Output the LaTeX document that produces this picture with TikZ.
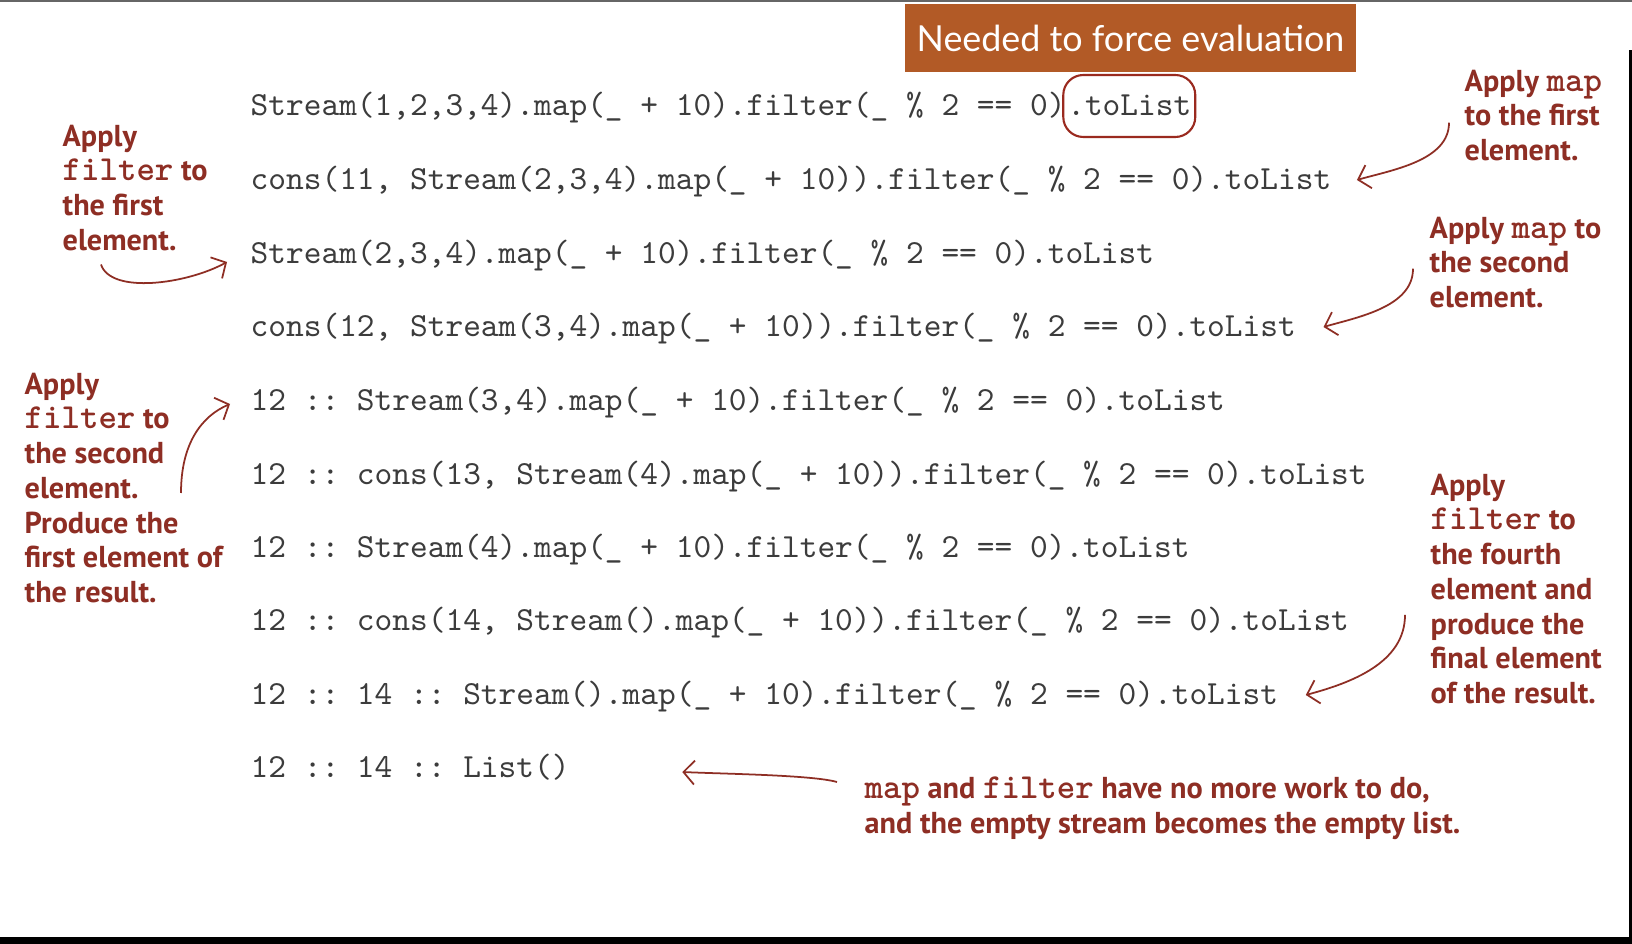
\documentclass[tikz,border=0pt]{standalone}
\usepackage{fontspec}
\usepackage{xcolor}
\usepackage{tikz}
\usetikzlibrary{calc,positioning,arrows.meta}
\newfontfamily\notefont{PT Sans}
\newfontfamily\bannerfont{Lato}
\definecolor{notered}{HTML}{8E2E24}
\definecolor{boxred}{HTML}{9A2A1F}
\definecolor{banbrown}{HTML}{B25A26}
\definecolor{codegray}{HTML}{3C3C3C}
\newcommand{\cw}[1]{{\ttfamily\bfseries\fontsize{10}{9.9}\selectfont\addfontfeature{FakeBold=1}#1}}

\begin{document}
\begin{tikzpicture}[x=0.1mm,y=-0.1mm,
   code/.style={text=codegray,font=\ttfamily\fontsize{9.6}{11}\selectfont\frenchspacing,inner sep=0pt,anchor=west,text height=7pt,text depth=1.4pt},
   tobox/.style={draw=boxred,rounded corners=2mm,line width=0.6pt,inner xsep=0.4mm,minimum height=6.2mm},
   note/.style={text=notered,font=\notefont\bfseries\fontsize{8.6}{9.9}\selectfont,align=left,inner sep=0pt,anchor=north west},
   banner/.style={fill=banbrown,text=white,minimum width=45.1mm,minimum height=6.8mm,inner sep=0pt,font=\bannerfont\fontsize{10.2}{12}\selectfont},
   notearrow/.style={draw=notered,line width=0.5pt,-{Straight Barb[length=1.1mm,width=2.4mm]}}]
\useasboundingbox (0,0) rectangle (1632,944);
% frame
\fill[white] (0,0) rectangle (1632,944);
\fill[black!60] (0,0) rectangle (1632,2);
\fill[black] (0,937) rectangle (1632,944);
\fill[black] (1629,50) rectangle (1632,944);
% banner
\node[banner] (need) at (1130.5,38) {Needed to force evaluation};
% evaluation steps
\node[code] (r1)  at (250,106) {Stream(1,2,3,4).map(\_ + 10).filter(\_ \% 2 == 0)};
\node[code,tobox,right=-0.4mm of r1] (tl) {.toList};
\node[code] (r2)  at (250,180) {cons(11, Stream(2,3,4).map(\_ + 10)).filter(\_ \% 2 == 0).toList};
\node[code] (r3)  at (250,254) {Stream(2,3,4).map(\_ + 10).filter(\_ \% 2 == 0).toList};
\node[code] (r4)  at (250,327) {cons(12, Stream(3,4).map(\_ + 10)).filter(\_ \% 2 == 0).toList};
\node[code] (r5)  at (250,401) {12 :: Stream(3,4).map(\_ + 10).filter(\_ \% 2 == 0).toList};
\node[code] (r6)  at (250,475) {12 :: cons(13, Stream(4).map(\_ + 10)).filter(\_ \% 2 == 0).toList};
\node[code] (r7)  at (250,548) {12 :: Stream(4).map(\_ + 10).filter(\_ \% 2 == 0).toList};
\node[code] (r8)  at (250,621) {12 :: cons(14, Stream().map(\_ + 10)).filter(\_ \% 2 == 0).toList};
\node[code] (r9)  at (250,695) {12 :: 14 :: Stream().map(\_ + 10).filter(\_ \% 2 == 0).toList};
\node[code] (r10) at (250,768) {12 :: 14 :: List()};
% annotations
\node[note] (a1) at (62,124)   {Apply\\\cw{filter} to\\the first\\element.};
\node[note] (a2) at (1464,69)  {Apply \cw{map}\\to the first\\element.};
\node[note] (a3) at (1429,216) {Apply \cw{map} to\\the second\\element.};
\node[note] (a4) at (24,372)   {Apply\\\cw{filter} to\\the second\\element.\\Produce the\\first element of\\the result.};
\node[note] (a5) at (1430,473) {Apply\\\cw{filter} to\\the fourth\\element and\\produce the\\final element\\of the result.};
\node[note] (a6) at (864,776)  {\cw{map} and \cw{filter} have no more work to do,\\and the empty stream becomes the empty list.};
% arrows
\draw[notearrow] ($(a1.south west)+(39,13)$) .. controls +(10,30) and +(-40,22) .. ($(r3.west)+(-23,8)$);
\draw[notearrow] ($(a2.south west)+(-15,-39)$) .. controls +(0,38) and +(35,-10) .. ($(r2.east)+(25,0)$);
\draw[notearrow] ($(a3.south west)+(-16,-40)$) .. controls +(0,38) and +(35,-10) .. ($(r4.east)+(27,0)$);
\draw[notearrow] ($(a4.north west)+(157,121)$) .. controls +(0,-50) and +(-28,12) .. ($(r5.west)+(-20,3)$);
\draw[notearrow] ($(a5.west)+(-25,26)$) .. controls +(0,48) and +(45,-12) .. ($(r9.east)+(27,0)$);
\draw[notearrow] ($(a6.north west)+(-27,6)$) .. controls +(-25,-7) and +(45,2) .. ($(r10.east)+(112,4)$);
\end{tikzpicture}
\end{document}
